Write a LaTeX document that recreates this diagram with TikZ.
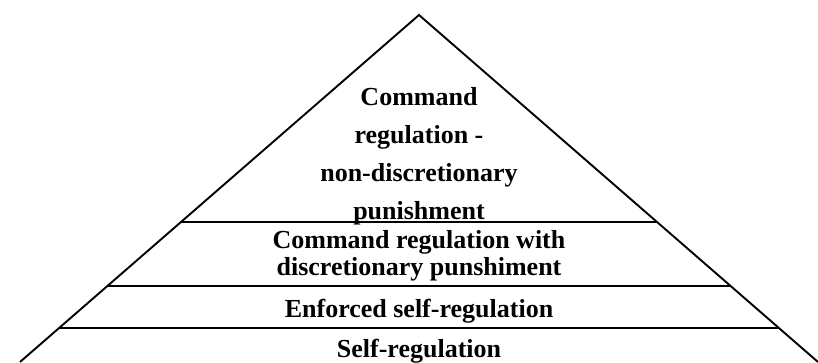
\documentclass[tikz,border=0pt]{standalone}
\usepackage{fontspec}
\setmainfont{Liberation Serif}
\begin{document}
\begin{tikzpicture}[x=1pt,y=-1pt,
  side/.style={line width=1.9pt,black},
  tier/.style={line width=2.8pt,black},
  lbl/.style={anchor=base,inner sep=0pt,font=\fontsize{26}{30}\selectfont\bfseries}]
\useasboundingbox (0,0) rectangle (818,362);
% geometry
\coordinate (apex) at (419,15);
\coordinate (bl) at (20,362);
\coordinate (br) at (818,362);
\coordinate (t1l) at (181,222);
\coordinate (t1r) at (657,222);
\coordinate (t2l) at (107.3,286);
\coordinate (t2r) at (730.7,286);
\coordinate (t3l) at (59,328);
\coordinate (t3r) at (779,328);
% pyramid sides
\draw[side] (bl) -- (apex) -- (br);
% tiers
\draw[tier] (t1l) -- (t1r);
\draw[tier] (t2l) -- (t2r);
\draw[tier] (t3l) -- (t3r);
% labels
\node[lbl] (a1) at (419,105) {Command};
\node[lbl] (a2) at (419,143) {regulation -};
\node[lbl] (a3) at (419,181) {non-discretionary};
\node[lbl] (a4) at (419,219) {punishment};
\node[lbl] (b1) at (419,248) {Command regulation with};
\node[lbl] (b2) at (419,275) {discretionary punshiment};
\node[lbl] (c1) at (419,317) {Enforced self-regulation};
\node[lbl] (d1) at (419,357) {Self-regulation};
\end{tikzpicture}
\end{document}
